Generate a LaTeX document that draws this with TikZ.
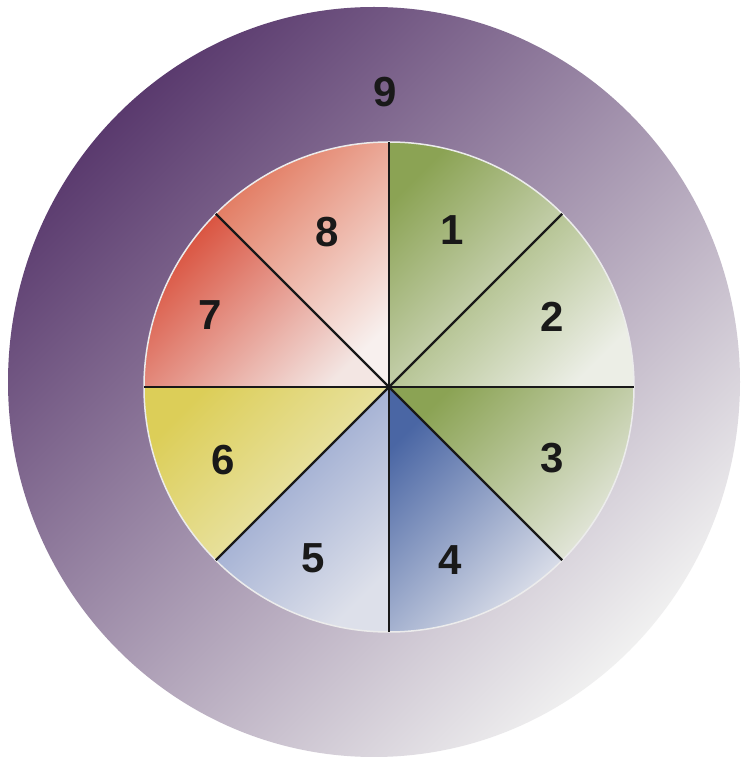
\documentclass[tikz,border=0pt]{standalone}
\usepackage{fontspec}
\setmainfont{Liberation Sans}
\definecolor{ringdark}{HTML}{5A3A6E}
\definecolor{ringmid}{HTML}{9C89AA}
\definecolor{ringlight}{HTML}{F0F0F0}
\definecolor{leafgreen}{HTML}{8BA354}
\definecolor{palegreen}{HTML}{E4E7DC}
\definecolor{deepblue}{HTML}{4A66A4}
\definecolor{softblue}{HTML}{8799C8}
\definecolor{paleblue}{HTML}{DDE0EA}
\definecolor{mustard}{HTML}{DCCE58}
\definecolor{paleyellow}{HTML}{EEEBC4}
\definecolor{brick}{HTML}{D9503C}
\definecolor{salmon}{HTML}{E27A60}
\definecolor{palerose}{HTML}{F3E6E3}
\tikzset{
  wedge/.style={shading angle=45},
  spoke/.style={line width=2.2pt,black!90},
  num/.style={font=\fontsize{42}{42}\selectfont\bfseries,text=black!90,inner sep=0pt}
}
\begin{document}
\begin{tikzpicture}[x=1pt,y=1pt]
  \useasboundingbox (0,0) rectangle (754,764);
  \fill[white] (0,0) rectangle (754,764);
  \def\rin{245}
  \coordinate (R) at (374,382);
  \coordinate (O) at (389,377);
  % outer ring
  \shade[top color=ringdark,middle color=ringmid,bottom color=ringlight,shading angle=45]
    (R) ellipse [x radius=366,y radius=375];
  % sectors
  \shade[top color=leafgreen,bottom color=palegreen,wedge]
    (O) -- ++(90:\rin) arc[start angle=90,end angle=45,radius=\rin] -- cycle;
  \shade[top color=leafgreen!90,bottom color=palegreen!70!white,wedge]
    (O) -- ++(45:\rin) arc[start angle=45,end angle=0,radius=\rin] -- cycle;
  \shade[top color=leafgreen,bottom color=palegreen,wedge]
    (O) -- ++(0:\rin) arc[start angle=0,end angle=-45,radius=\rin] -- cycle;
  \shade[top color=deepblue,bottom color=paleblue,wedge]
    (O) -- ++(-45:\rin) arc[start angle=-45,end angle=-90,radius=\rin] -- cycle;
  \shade[top color=softblue,bottom color=paleblue,wedge]
    (O) -- ++(-90:\rin) arc[start angle=-90,end angle=-135,radius=\rin] -- cycle;
  \shade[top color=mustard,bottom color=paleyellow,wedge]
    (O) -- ++(-135:\rin) arc[start angle=-135,end angle=-180,radius=\rin] -- cycle;
  \shade[top color=brick,bottom color=palerose,wedge]
    (O) -- ++(180:\rin) arc[start angle=180,end angle=135,radius=\rin] -- cycle;
  \shade[top color=salmon,bottom color=palerose!60!white,wedge]
    (O) -- ++(135:\rin) arc[start angle=135,end angle=90,radius=\rin] -- cycle;
  \draw[white!85!gray,line width=1.5pt] (O) circle[radius=\rin];
  % spokes
  \draw[spoke] (O) ++(90:\rin) -- ++(-90:2*\rin);
  \draw[spoke] (O) ++(0:\rin) -- ++(180:2*\rin);
  \draw[spoke] (O) ++(45:\rin) -- ++(-135:2*\rin);
  \draw[spoke] (O) ++(135:\rin) -- ++(-45:2*\rin);
  % labels
  \node[num] (n1) at (452,534) {1};
  \node[num] (n2) at (552,447) {2};
  \node[num] (n3) at (552,306) {3};
  \node[num] (n4) at (450,204) {4};
  \node[num] (n5) at (313,206) {5};
  \node[num] (n6) at (223,304) {6};
  \node[num] (n7) at (210,449) {7};
  \node[num] (n8) at (327,532) {8};
  \node[num] (n9) at (385,672) {9};
\end{tikzpicture}
\end{document}
